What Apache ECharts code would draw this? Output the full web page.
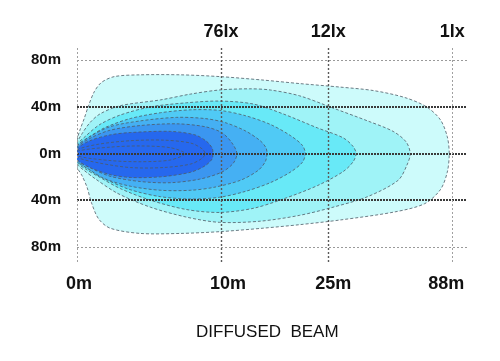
<!DOCTYPE html>
<html>
<head>
<meta charset="utf-8">
<script src="https://cdn.jsdelivr.net/npm/echarts@6/dist/echarts.min.js"></script>
<style>
html,body{margin:0;padding:0;background:#fff;}
#chart{width:500px;height:361px;}
</style>
</head>
<body>
<div id="chart"></div>
<script>
// ---- data ----
const distTicks = [0, 10, 25, 88];              // metres (bottom axis)
const distLabels = ['0m', '10m', '25m', '88m'];
const luxLabels = ['', '76lx', '12lx', '1lx'];   // top axis
const yTicks = [-80, -40, 0, 40, 80];            // metres (lateral)

// isolux contours: [distance m, lateral m], outermost first
const contour1 = [[0,11],[0.2,20],[0.5,30],[0.8,41],[1.2,53],[1.7,61],[2.6,66],[4.4,67.5],[7.2,67.5],[9.9,66],[15.9,63],[21,60],[31,57],[48,54],[64,48],[75,40],[82,29],[85.5,14.5],[86.5,0],[85.5,-16],[82,-31],[74,-43],[59,-50],[31,-57],[21,-61],[15.9,-64],[9.9,-67],[7.2,-68.5],[4.4,-68.5],[2.3,-64],[1.5,-56],[1,-42],[0.7,-29],[0.35,-19],[0,-11]];
const contour2 = [[0,8.5],[0.35,17],[0.9,26.5],[1.6,34],[3,41],[5.8,46],[7.9,51],[9.9,54.5],[14,55.5],[16.9,54.5],[21,49.5],[27.5,39],[45,28],[58,19],[64.6,10],[66.7,0],[65,-10],[60.5,-23],[45,-37],[27.5,-46],[21,-53],[15.5,-58],[9.9,-59],[7.6,-54.5],[5.1,-46],[2.8,-34],[1.25,-21.5],[0.5,-14.5],[0,-8.5]];
const contour3 = [[0,7],[0.56,14.5],[1.6,25],[3,33],[5.1,40],[7.6,43.5],[9.9,45],[14.5,42.5],[18.7,34],[23.5,22],[32.6,13.5],[37.7,6],[39.2,0],[37.7,-7],[32.6,-15.5],[23.5,-27.5],[18.7,-39],[14.5,-47],[9.9,-50.5],[7.6,-48],[5.1,-40],[3,-30],[1.6,-20.5],[0.56,-13],[0,-7]];
const contour4 = [[0,6],[0.76,13.5],[1.9,22],[3.7,30],[5.8,35],[7.9,37.5],[9.9,37],[13.4,32.5],[16.9,25],[19.7,15.5],[21.4,7],[21.8,0],[21.4,-7.5],[19.7,-16],[16.9,-25],[13.4,-32.5],[9.9,-37.5],[7.9,-39],[5.8,-37],[3.7,-31],[1.9,-21.5],[0.76,-13],[0,-6]];
const contour5 = [[0,6],[0.9,14.5],[2.3,23],[4.4,28],[6.9,31],[8.9,30],[10.6,26.5],[13.4,19.5],[15.5,11],[16.3,5],[16.45,0],[16.2,-7],[15.2,-14.5],[12.7,-23],[9.5,-29],[7.9,-31.5],[5.8,-31.5],[3.7,-28],[1.9,-21.5],[0.76,-13],[0,-6]];
const contour6 = [[0,5],[0.9,13],[2.3,20],[4.4,24],[6.9,25.5],[8.9,23],[10.1,18],[11.5,9.5],[12.24,0],[11.7,-8.5],[10.1,-16],[8.5,-22],[6.5,-25],[4.4,-24],[2.3,-19.5],[0.9,-12],[0,-5]];
const contour7 = [[0,4],[0.9,11],[2.3,16],[3.7,18],[6.5,19],[8.2,16],[9,10.5],[9.4,4.5],[9.44,0],[9.4,-4.5],[8.9,-10.5],[7.9,-16],[5.8,-20],[3.7,-20.5],[2.3,-18],[0.9,-12],[0,-5]];
const contour8 = [[0,3],[1.5,8],[3.7,11],[6,11.5],[7.9,9],[8.7,4],[8.9,0],[8.7,-4],[7.9,-9],[6,-12],[3.7,-12],[1.5,-8],[0,-3]];
const contour9 = [[0,2],[2.3,5.5],[4.4,6.5],[6.5,5],[7.5,0],[6.5,-5.5],[4.4,-7],[2.3,-6],[0,-2]];

const contours = [contour1, contour2, contour3, contour4, contour5, contour6, contour7, contour8, contour9];

// ---- styles / layout ----
const fills = ['#cdfbfb', '#9ff3f7', '#68e9f7', '#50caf5', '#45b0f3', '#3b96f0', '#2668ee', '#2668ee', '#2668ee'];
// axis position (0..100 of plot width) of each labelled distance: the drawing's distance scale is not linear
const tickPos = [0, 36.9, 64.4, 96.2];
function toAxis(m) {
  for (let i = 1; i < distTicks.length; i++) {
    if (m <= distTicks[i] || i === distTicks.length - 1) {
      const t = (m - distTicks[i-1]) / (distTicks[i] - distTicks[i-1]);
      return tickPos[i-1] + t * (tickPos[i] - tickPos[i-1]);
    }
  }
}
const xTickVals = distTicks.map(toAxis);
const FONT = 'Liberation Sans, Arial, sans-serif';

const chart = echarts.init(document.getElementById('chart'), null, {renderer: 'canvas'});

const hLine = (v) => {
  const major = Math.abs(v) < 60;
  return {yAxis: v, lineStyle: major ? {color: '#3a3a3a', width: 2.2, type: [2, 1]} : {color: '#9a9a9a', width: 1, type: [2, 2]}};
};
const vLine = (v, i) => {
  const dark = i === 1 || i === 2;
  return {xAxis: v, lineStyle: dark ? {color: '#5a5a5a', width: 1.4, type: [2, 2]} : {color: '#a0a0a0', width: 1, type: [2, 2]}};
};

const option = {
  animation: false,
  backgroundColor: '#fff',
  title: {
    text: 'DIFFUSED  BEAM',
    left: 191, top: 319,
    textStyle: {fontFamily: FONT, fontSize: 17, fontWeight: 'normal', color: '#111'}
  },
  grid: {left: 77, right: 33, top: 48, bottom: 99, containLabel: false},
  xAxis: [{
    type: 'value', min: 0, max: 100, position: 'bottom',
    axisLine: {show: false}, axisTick: {show: false}, splitLine: {show: false},
    axisLabel: {
      customValues: xTickVals, margin: 13,
      formatter: (v) => {
        const i = xTickVals.findIndex(t => Math.abs(t - v) < 1e-6);
        return '{s' + i + '|' + distLabels[i] + '}';
      },
      rich: {
        s0: {fontFamily: FONT, fontSize: 18, fontWeight: 'bold', color: '#111', padding: [0, 0, 0, 4]},
        s1: {fontFamily: FONT, fontSize: 18, fontWeight: 'bold', color: '#111', padding: [0, 0, 0, 14]},
        s2: {fontFamily: FONT, fontSize: 18, fontWeight: 'bold', color: '#111', padding: [0, 0, 0, 10]},
        s3: {fontFamily: FONT, fontSize: 18, fontWeight: 'bold', color: '#111', padding: [0, 12, 0, 0]}
      }
    }
  }, {
    type: 'value', min: 0, max: 100, position: 'top',
    axisLine: {show: false}, axisTick: {show: false}, splitLine: {show: false},
    axisLabel: {
      customValues: xTickVals.slice(1), margin: 7,
      fontFamily: FONT, fontSize: 18, fontWeight: 'bold', color: '#111',
      formatter: (v) => luxLabels[xTickVals.findIndex(t => Math.abs(t - v) < 1e-6)]
    }
  }],
  yAxis: {
    type: 'value', min: -93, max: 90.5,
    axisLine: {show: false}, axisTick: {show: false}, splitLine: {show: false},
    axisLabel: {
      customValues: yTicks, margin: 16,
      fontFamily: FONT, fontSize: 15, fontWeight: 'bold', color: '#111',
      formatter: (v) => Math.abs(v) + 'm'
    }
  },
  series: [{
    type: 'custom',
    z: 2,
    clip: true,
    data: contours.map((c, i) => [i]),
    renderItem: (params, api) => {
      const idx = api.value(0);
      const pts = contours[idx].map(p => api.coord([toAxis(p[0]), p[1]]));
      return {
        type: 'polygon',
        shape: {points: pts, smooth: 0.3},
        style: {fill: fills[idx], stroke: '#4d5a66', lineWidth: 0.8, lineDash: [3, 2]}
      };
    }
  }, {
    type: 'line',
    z: 5,
    data: [],
    markLine: {
      silent: true, symbol: 'none', animation: false,
      label: {show: false},
      data: yTicks.map(hLine).concat(xTickVals.map(vLine))
    }
  }]
};
chart.setOption(option);
</script>
</body>
</html>
